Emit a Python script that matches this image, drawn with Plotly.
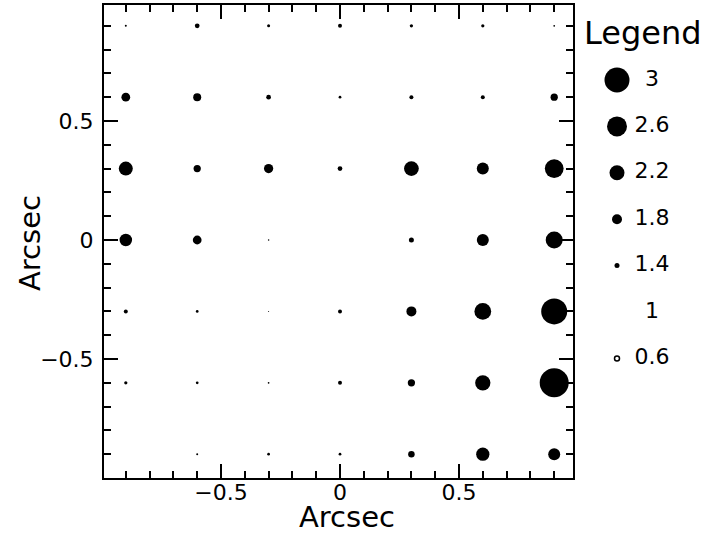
import plotly.graph_objects as go

# ---- data ----
x_pos = [-0.9, -0.6, -0.3, 0.0, 0.3, 0.6, 0.9]
y_pos = [0.9, 0.6, 0.3, 0.0, -0.3, -0.6, -0.9]
row_p09 = [1.16, 1.38, 1.24, 1.32, 1.26, 1.26, 1.14]
row_p06 = [1.70, 1.64, 1.38, 1.22, 1.32, 1.32, 1.58]
row_p03 = [2.12, 1.58, 1.74, 1.38, 2.18, 1.96, 2.50]
row_000 = [2.00, 1.70, 1.12, 1.00, 1.40, 1.96, 2.36]
row_m03 = [1.32, 1.22, 1.08, 1.32, 1.80, 2.34, 3.08]
row_m06 = [1.26, 1.22, 1.14, 1.32, 1.58, 2.22, 3.32]
row_m09 = [1.00, 1.16, 1.22, 1.22, 1.52, 2.06, 1.96]
rows = [row_p09, row_p06, row_p03, row_000, row_m03, row_m06, row_m09]

legend_values = [3, 2.6, 2.2, 1.8, 1.4, 1, 0.6]
legend_labels = ["3", "2.6", "2.2", "1.8", "1.4", "1", "0.6"]
x_tick_vals = [-0.5, 0, 0.5]
x_tick_text = ["\u22120.5", "0", "0.5"]

W, H = 718, 535
PX_PER_UNIT = 12.5


def px_x(p):
    return min(1.0, max(0.0, p / W))


def px_y(p):
    return min(1.0, max(0.0, (H - p) / H))


def msize(v):
    return PX_PER_UNIT * abs(v - 1.0)


def msymbol(v):
    return "circle" if v >= 1 else "circle-open"


xs, ys, vs = [], [], []
for yv, row in zip(y_pos, rows):
    for xv, v in zip(x_pos, row):
        xs.append(xv)
        ys.append(yv)
        vs.append(v)

fig = go.Figure()
fig.add_trace(go.Scatter(
    x=xs, y=ys, mode="markers",
    marker=dict(size=[msize(v) for v in vs], symbol=[msymbol(v) for v in vs],
                color="black", opacity=1,
                line=dict(width=[0 if v >= 1 else 1.5 for v in vs], color="black")),
    hoverinfo="skip", showlegend=False, cliponaxis=False,
))

# legend column on secondary axes
idx = list(range(len(legend_values)))
fig.add_trace(go.Scatter(
    x=[0] * len(idx), y=idx, mode="markers",
    marker=dict(size=[msize(v) for v in legend_values],
                symbol=[msymbol(v) for v in legend_values],
                color="black", opacity=1,
                line=dict(width=[0 if v >= 1 else 1.5 for v in legend_values], color="black")),
    xaxis="x2", yaxis="y2", hoverinfo="skip", showlegend=False, cliponaxis=False,
))
fig.add_trace(go.Scatter(
    x=[1] * len(idx), y=idx, mode="text", text=legend_labels,
    textposition="middle center",
    textfont=dict(family="DejaVu Sans", size=22, color="black"),
    xaxis="x2", yaxis="y2", hoverinfo="skip", showlegend=False, cliponaxis=False,
))

font = dict(family="DejaVu Sans", size=22, color="black")
axis_common = dict(
    showline=True, linecolor="black", linewidth=2, mirror="ticks",
    ticks="inside", ticklen=14, tickwidth=2, tickcolor="black",
    showgrid=False, zeroline=False, automargin=False,
    tickfont=font,
    minor=dict(ticks="inside", ticklen=7, tickwidth=2, tickcolor="black", dtick=0.1, showgrid=False),
)

# screen-pixel geometry of the plot frame
left, right, top, bottom = 104, 573, 5, 478
x_zero, y_zero, unit = 340, 240, 238.0
x_range = [(left - x_zero) / unit, (right - x_zero) / unit]
y_range = [(y_zero - bottom) / unit, (y_zero - top) / unit]

# legend axes: x2 units where marker column = 0, label column = 1
leg_x0, leg_dx = 617, 35
leg_y0, leg_dy = 80, 46.4
x2_left_px = 580

title_font = dict(family="DejaVu Sans", size=29, color="black")

fig.update_layout(
    width=W, height=H,
    margin=dict(l=0, r=0, t=0, b=0),
    paper_bgcolor="white", plot_bgcolor="white",
    font=font,
    xaxis=dict(domain=[px_x(left), px_x(right)], range=x_range,
               tickmode="array", tickvals=x_tick_vals, ticktext=x_tick_text,
               ticklabelstandoff=-6,
               **axis_common),
    yaxis=dict(domain=[px_y(bottom), px_y(top)], range=y_range,
               tickmode="array", tickvals=x_tick_vals, ticktext=x_tick_text,
               ticklabelstandoff=4,
               **axis_common),
    xaxis2=dict(domain=[px_x(x2_left_px), 1.0],
                range=[(x2_left_px - leg_x0) / leg_dx, (W - leg_x0) / leg_dx],
                visible=False, anchor="y2"),
    yaxis2=dict(domain=[0, 1],
                range=[(H - leg_y0) / leg_dy, (0 - leg_y0) / leg_dy],
                visible=False, anchor="x2"),
    annotations=[
        dict(text="Arcsec", x=px_x(347), y=px_y(517), xref="paper", yref="paper",
             showarrow=False, font=title_font,
             xanchor="center", yanchor="middle"),
        dict(text="Arcsec", x=px_x(30), y=px_y(243), xref="paper", yref="paper",
             showarrow=False, textangle=-90, font=title_font,
             xanchor="center", yanchor="middle"),
        dict(text="Legend", x=px_x(643), y=px_y(33), xref="paper", yref="paper",
             showarrow=False, font=dict(family="DejaVu Sans", size=32, color="black"),
             xanchor="center", yanchor="middle"),
    ],
)

fig.write_html("out.html",
               config={"displayModeBar": False},
               post_script="document.body.style.margin='0';document.body.style.padding='0';")
